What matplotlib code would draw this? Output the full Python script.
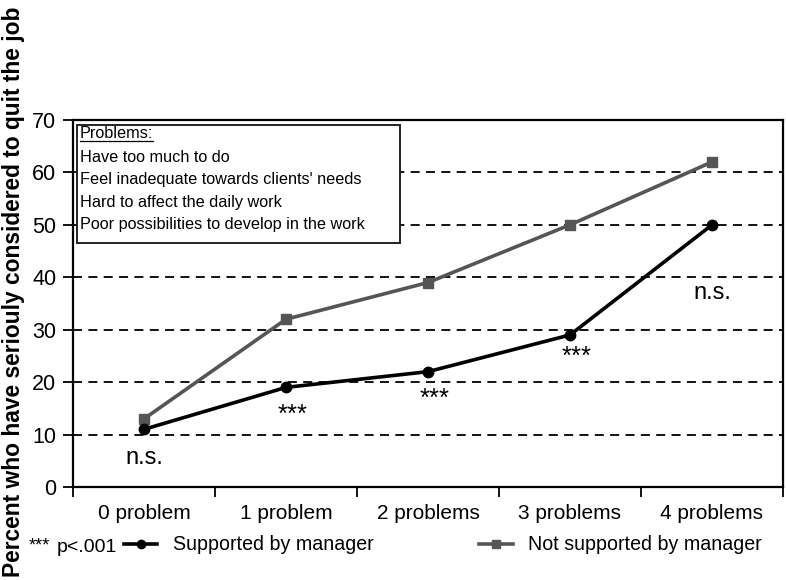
import matplotlib
matplotlib.use("Agg")
import matplotlib.pyplot as plt
from matplotlib.patches import Rectangle
from matplotlib.lines import Line2D

plt.rcParams['font.family'] = ['Liberation Sans', 'DejaVu Sans']

categories = ["0 problem", "1 problem", "2 problems", "3 problems", "4 problems"]
supported = [11, 19, 22, 29, 50]
not_supported = [13, 32, 39, 50, 62]
sig_labels = ["n.s.", "***", "***", "***", "n.s."]
sig_y = [5.5, 12.4, 15.4, 23.4, 37]
box_lines = ["Have too much to do",
             "Feel inadequate towards clients' needs",
             "Hard to affect the daily work",
             "Poor possibilities to develop in the work"]
yticks = [0, 10, 20, 30, 40, 50, 60, 70]

fig = plt.figure(figsize=(7.86, 5.8), dpi=100)
ax = fig.add_axes([73/786, 1-487/580, 710/786, 367/580])

x = list(range(len(categories)))
ax.set_xlim(-0.5, len(categories) - 0.5)
ax.set_ylim(0, 70)

for yv in yticks[1:-1]:
    ax.axhline(yv, color='black', lw=1.3, ls=(0, (5, 3.5)), zorder=1)

l2, = ax.plot(x, not_supported, color='#555555', lw=2.6, marker='s', markersize=7.5,
              label='Not supported by manager', zorder=3)
l1, = ax.plot(x, supported, color='black', lw=2.6, marker='o', markersize=7.5,
              label='Supported by manager', zorder=4)

for xi, s, yv in zip(x, sig_labels, sig_y):
    if s == "n.s.":
        ax.text(xi, yv, s, ha='center', va='center', fontsize=17)
    else:
        ax.text(xi + 0.045, yv, s, ha='center', va='baseline', fontsize=18.5)

ax.set_yticks(yticks)
ax.set_yticklabels([str(v) for v in yticks], fontsize=15.5)
ax.set_xticks(x)
ax.set_xticklabels(categories, fontsize=15)
ax.tick_params(axis='x', length=0, pad=12)
ax.set_xticks([i - 0.5 for i in range(len(categories) + 1)], minor=True)
ax.tick_params(axis='x', which='minor', length=7, width=1.3, direction='out')
ax.tick_params(axis='y', length=7, width=1.3, direction='out', pad=5)
for sp in ax.spines.values():
    sp.set_linewidth(1.6)

# Problems box
box = Rectangle((4/710, (487-243)/367), (400-77)/710, (243-125)/367,
                transform=ax.transAxes, facecolor='white', edgecolor='#222222',
                lw=1.4, zorder=5)
ax.add_patch(box)
bx = 7/710
t = ax.text(bx, (487-134)/367, "Problems:", transform=ax.transAxes, fontsize=11.7,
            va='center', ha='left', zorder=6)
for i, line in enumerate(box_lines):
    ax.text(bx, (487-(157+22.5*i))/367, line, transform=ax.transAxes, fontsize=11.7,
            va='center', ha='left', zorder=6)

fig.canvas.draw()
bb = t.get_window_extent().transformed(ax.transAxes.inverted())
ax.add_line(Line2D([bb.x0, bb.x1], [bb.y0 + 0.002, bb.y0 + 0.002], transform=ax.transAxes,
                   color='black', lw=0.9, zorder=6))

fig.text(14/786, 0.497, "Percent who have seriouly considered to quit the job",
         rotation=90, ha='center', va='center', fontsize=16.4, fontweight='bold')

fig.text(29/786, 1-550/580, "***", ha='left', va='baseline', fontsize=13)
fig.text(57/786, 1-552/580, "p<.001", ha='left', va='baseline', fontsize=14)
leg = fig.legend(handles=[l1, l2], loc='center left', bbox_to_anchor=(124/786, 1-545/580),
                 ncol=2, frameon=False, fontsize=14.1, handlelength=1.7, handletextpad=0.8,
                 columnspacing=5.4, borderaxespad=0, borderpad=0, markerscale=0.8)

fig.savefig("out.png", dpi=100)
